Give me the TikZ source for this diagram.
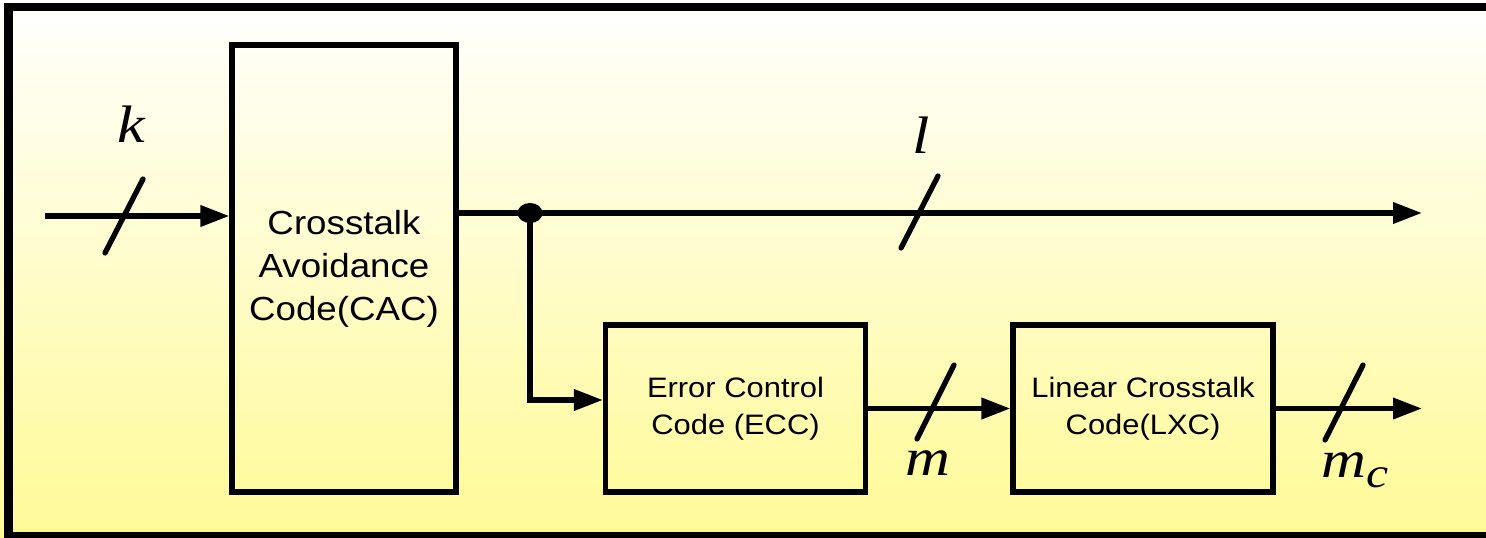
\documentclass[tikz,border=0pt]{standalone}
\usepackage{fontspec}
\newfontfamily\boxfont[FakeStretch=1.1]{Liberation Sans}
\newfontfamily\varfont[FakeStretch=1.18]{Liberation Serif}
\usetikzlibrary{arrows.meta,shapes.geometric}
\definecolor{padyellow}{RGB}{255,250,150}

\begin{document}
\begin{tikzpicture}[
        x=0.02cm, y=-0.02cm,
        big_block/.style={draw, rectangle, line width=3pt, align=center, minimum width=4.48cm, minimum height=8.94cm, font=\boxfont\fontsize{19}{24.5}\selectfont},
        code_block/.style={draw, rectangle, line width=3pt, align=center, minimum width=5.2cm, minimum height=3.34cm, font=\boxfont\fontsize{16}{21}\selectfont},
        arrow/.style={-{Triangle[length=0.58cm,width=0.41cm]}, line width=3pt},
        bus_mark/.style={line width=3pt, line cap=round},
        bus_label/.style={font=\varfont\itshape\fontsize{30}{30}\selectfont, anchor=base, inner sep=0pt},
        dot/.style={ellipse, fill, inner sep=0pt, minimum width=0.5cm, minimum height=0.4cm}
    ]
        % background and frame
        \clip (0,0) rectangle (1486,537);
        \shade[top color=white, bottom color=padyellow] (0,0) rectangle (1486,537);
        \draw[line width=5pt] (8.5,7) rectangle (1492,536);

        % blocks
        \node (cac) at (344,268.5) [big_block] {Crosstalk\\Avoidance\\Code(CAC)};
        \node (ecc) at (735.5,408.5) [code_block] {Error Control\\Code (ECC)};
        \node (lxc) at (1143,408.5) [code_block] {Linear Crosstalk\\Code(LXC)};

        \node (split) at (530,213) [dot] {};
        \coordinate (in) at (45,216);
        \coordinate (out_top) at (1422,213);
        \coordinate (out_bot) at (1422,408.5);
        \coordinate (bend) at (530,400);

        % connections
        \draw [arrow] (in) -- (in -| cac.west);
        \draw [arrow] (cac.east |- split) -- (out_top);
        \draw [arrow] (split.center) -- (bend) -- (bend -| ecc.west);
        \draw [arrow] (ecc) -- (lxc);
        \draw [arrow] (lxc) -- (out_bot);

        % bus widths
        \draw [bus_mark] (124,216) ++(-19,37) -- ++(38,-74);
        \draw [bus_mark] (920,213) ++(-19,35) -- ++(37,-72);
        \draw [bus_mark] (935,402) ++(-18,37) -- ++(37,-74);
        \draw [bus_mark] (1344,402) ++(-19,38) -- ++(38,-75);

        \node (k_label) at (131,142) [bus_label] {k};
        \node (l_label) at (921,153) [bus_label] {l};
        \node (m_label) at (928,475) [bus_label] {m};
        \node (mc_label) at (1355,477) [bus_label] {m\raisebox{-0.2cm}{\fontsize{24}{24}\selectfont c}};

    \end{tikzpicture}
\end{document}
